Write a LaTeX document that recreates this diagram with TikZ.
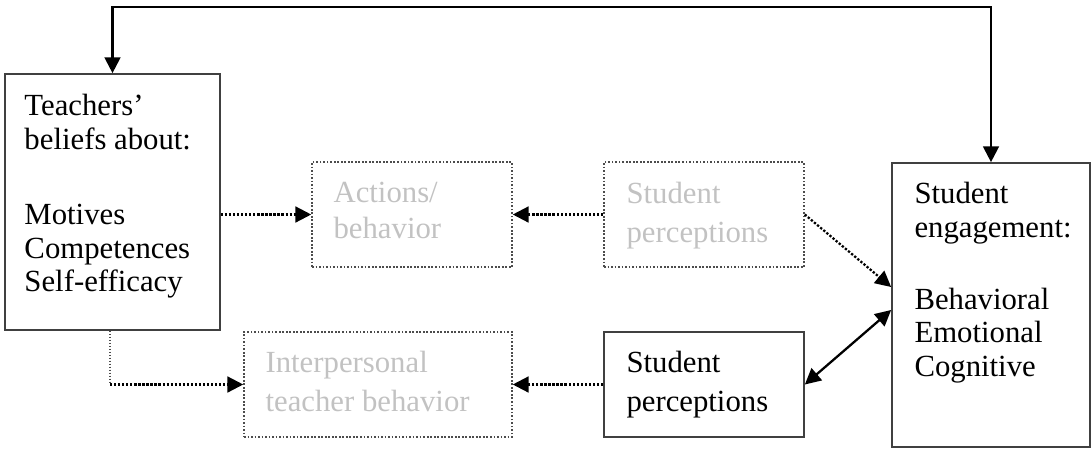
\documentclass[tikz,border=0pt]{standalone}
\usepackage{fontspec}
\setmainfont{Liberation Serif}
\usepackage{xcolor}
\colorlet{colFaint}{black!24}
\colorlet{colEdge}{black!75}
\usetikzlibrary{arrows.meta, positioning, calc}

\tikzset{
  box/.style={draw=colEdge, line width=1pt, minimum width=4cm, minimum height=2.1cm, inner sep=0pt},
  faintbox/.style={box, draw=black!70, densely dotted, line width=0.9pt},
  txt/.style={anchor=north west, inner sep=0pt, align=left, font=\fontsize{17.5}{19}\selectfont},
  link/.style={line width=1.3pt, -{Triangle[length=9pt,width=9pt]}},
  dotlink/.style={link, densely dotted},
}

\begin{document}
\begin{tikzpicture}[x=0.02cm, y=-0.02cm]
  \useasboundingbox (0,0) rectangle (1092,450);
  % boxes
  \node[box, minimum width=4.3cm, minimum height=5.12cm] (tb) at (112.5,202) {};
  \node[faintbox] (ab) at (412,214.5) {};
  \node[faintbox] (sp1) at (704,214.5) {};
  \node[faintbox, minimum width=5.36cm] (ib) at (378,384.5) {};
  \node[box] (sp2) at (704,384.5) {};
  \node[box, minimum width=3.96cm, minimum height=5.68cm] (se) at (991,305) {};
  % texts
  \node[txt] (tbtxt) at ([shift={(20,21)}]tb.north west) {Teachers’\\beliefs about:\\[24pt]Motives\\Competences\\Self-efficacy};
  \node[txt, colFaint] (abtxt) at ([shift={(22,21)}]ab.north west) {Actions/\\[1pt]behavior};
  \node[txt, colFaint] (sp1txt) at ([shift={(23,21)}]sp1.north west) {Student\\[3pt]perceptions};
  \node[txt, colFaint] (ibtxt) at ([shift={(22,20)}]ib.north west) {Interpersonal\\[3pt]teacher behavior};
  \node[txt] (sp2txt) at ([shift={(23,20)}]sp2.north west) {Student\\[3pt]perceptions};
  \node[txt] (setxt) at ([shift={(23,20)}]se.north west) {Student\\engagement:\\[22pt]Behavioral\\Emotional\\Cognitive};
  % connectors
  \coordinate (top) at (0,7);
  \coordinate (bend) at (110,384.5);
  \draw[link, {Triangle[length=9pt,width=9pt]}-{Triangle[length=9pt,width=9pt]}] (se.north) -- (se.north |- top) -| (tb.north);
  \draw[dotlink] (tb.east |- ab.west) -- (ab.west);
  \draw[dotlink] (sp1.west) -- (ab.east);
  \draw[dotlink] (sp1.east) -- ([yshift=0.36cm]se.west);
  \draw[black!70, densely dotted, line width=0.7pt] (tb.south -| bend) -- (bend);
  \draw[dotlink] (bend) -- (ib.west);
  \draw[dotlink] (sp2.west) -- (ib.east);
  \draw[link, {Triangle[length=9pt,width=9pt]}-{Triangle[length=9pt,width=9pt]}] (sp2.east) -- ([yshift=-0.1cm]se.west);
\end{tikzpicture}
\end{document}
